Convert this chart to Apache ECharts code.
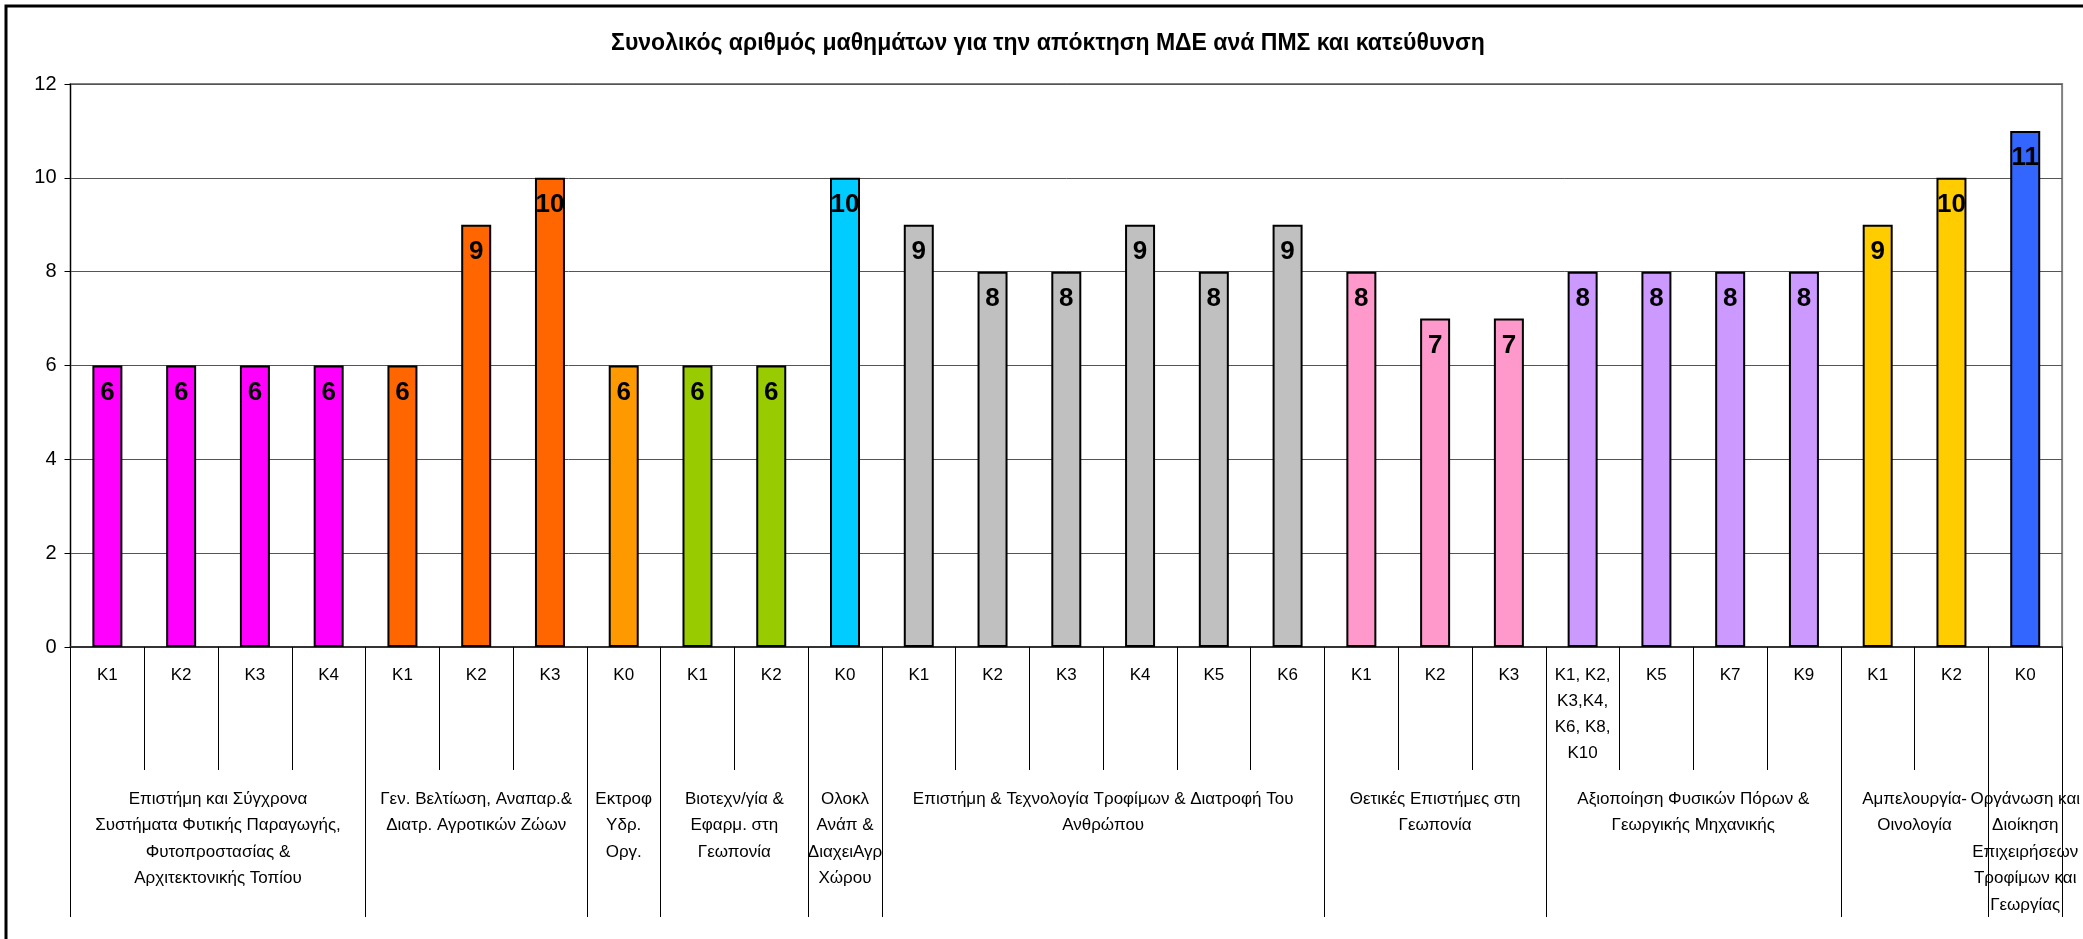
<!DOCTYPE html>
<html>
<head>
<meta charset="utf-8">
<script src="https://cdn.jsdelivr.net/npm/echarts@6/dist/echarts.min.js"></script>
<style>
html,body{margin:0;padding:0;background:#fff;}
#chart{width:2083px;height:939px;}
</style>
</head>
<body>
<div id="chart"></div>
<script>
// ---- data ----
const titleText = 'Συνολικός αριθμός μαθημάτων για την απόκτηση ΜΔΕ ανά ΠΜΣ και κατεύθυνση';
const categories = ['K1','K2','K3','K4','K1','K2','K3','K0','K1','K2','K0','K1','K2','K3','K4','K5','K6','K1','K2','K3','K1, K2,\nK3,K4,\nK6, K8,\nK10','K5','K7','K9','K1','K2','K0'];
const values = [6,6,6,6, 6,9,10, 6, 6,6, 10, 9,8,8,9,8,9, 8,7,7, 8,8,8,8, 9,10, 11];
const groupNames = [
  'Επιστήμη και Σύγχρονα\nΣυστήματα Φυτικής Παραγωγής,\nΦυτοπροστασίας &\nΑρχιτεκτονικής Τοπίου',
  'Γεν. Βελτίωση, Αναπαρ.&\nΔιατρ. Αγροτικών Ζώων',
  'Εκτροφ\nΥδρ.\nΟργ.',
  'Βιοτεχν/γία &\nΕφαρμ. στη\nΓεωπονία',
  'Ολοκλ\nΑνάπ &\nΔιαχειΑγρ\nΧώρου',
  'Επιστήμη & Τεχνολογία Τροφίμων & Διατροφή Του\nΑνθρώπου',
  'Θετικές Επιστήμες στη\nΓεωπονία',
  'Αξιοποίηση Φυσικών Πόρων &\nΓεωργικής Μηχανικής',
  'Αμπελουργία-\nΟινολογία',
  'Οργάνωση και\nΔιοίκηση\nΕπιχειρήσεων\nΤροφίμων και\nΓεωργίας'
];
const groupSizes = [4,3,1,2,1,6,3,4,2,1];
const yTicks = [0,2,4,6,8,10,12];

// ---- styles ----
const groupColors = ['#FF00FF','#FF6600','#FF9900','#99CC00','#00CCFF','#C0C0C0','#FF99CC','#CC99FF','#FFCC00','#3366FF'];
const FONT = '"Liberation Sans", Arial, sans-serif';

// derive per-category group index, group boundaries and centers
const catGroup = [];
const bounds = [0];
const centers = [];
const centerName = {};
let acc = 0;
groupSizes.forEach((n, g) => {
  for (let i = 0; i < n; i++) catGroup.push(g);
  centers.push(acc + n / 2);
  centerName[acc + n / 2] = groupNames[g];
  acc += n;
  bounds.push(acc);
});

const chart = echarts.init(document.getElementById('chart'), null, {renderer: 'canvas'});
chart.setOption({
  backgroundColor: '#ffffff',
  animation: false,
  title: {
    text: titleText,
    left: 1043,
    top: 27,
    textAlign: 'center',
    textStyle: {fontFamily: FONT, fontSize: 23, fontWeight: 'bold', color: '#000'}
  },
  graphic: [{
    type: 'rect',
    z: -10,
    shape: {x: 6, y: 6, width: 4000, height: 4000},
    style: {fill: 'none', stroke: '#000', lineWidth: 3}
  }],
  grid: {
    left: 70.5, right: 11, top: 84, bottom: 292,
    show: true, borderColor: '#808080', borderWidth: 2, backgroundColor: 'transparent'
  },
  xAxis: [{
    type: 'category',
    data: categories,
    position: 'bottom',
    axisLine: {show: true, lineStyle: {color: '#333', width: 2}},
    axisTick: {show: true, interval: 0, length: 123, lineStyle: {color: '#000', width: 1}},
    axisLabel: {interval: 0, margin: 15, fontFamily: FONT, fontSize: 17, lineHeight: 26, color: '#000', align: 'center'},
    splitLine: {show: false}
  }, {
    type: 'value',
    min: 0, max: 27,
    position: 'bottom',
    axisLine: {show: false},
    splitLine: {show: false},
    axisTick: {show: true, customValues: bounds, length: 270, lineStyle: {color: '#000', width: 1}},
    axisLabel: {
      customValues: centers,
      formatter: v => centerName[v] || '',
      margin: 139, fontFamily: FONT, fontSize: 17, lineHeight: 26.5, color: '#000', align: 'center',
      hideOverlap: false
    }
  }],
  yAxis: {
    type: 'value',
    min: yTicks[0], max: yTicks[yTicks.length - 1], interval: 2,
    axisLine: {show: true, lineStyle: {color: '#000', width: 1}},
    axisTick: {show: true, length: 6, lineStyle: {color: '#000'}},
    axisLabel: {margin: 14, fontFamily: FONT, fontSize: 20, color: '#000'},
    splitLine: {show: true, lineStyle: {color: '#555555', width: 1}}
  },
  series: [{
    type: 'bar',
    xAxisIndex: 0,
    yAxisIndex: 0,
    barWidth: 30,
    data: values.map((v, i) => ({
      value: v,
      itemStyle: {color: groupColors[catGroup[i]]}
    })),
    itemStyle: {borderColor: '#000', borderWidth: 2},
    label: {
      show: true,
      position: 'insideTop',
      distance: 14,
      fontFamily: FONT,
      fontSize: 26,
      fontWeight: 'bold',
      color: '#000'
    }
  }]
});
</script>
</body>
</html>
